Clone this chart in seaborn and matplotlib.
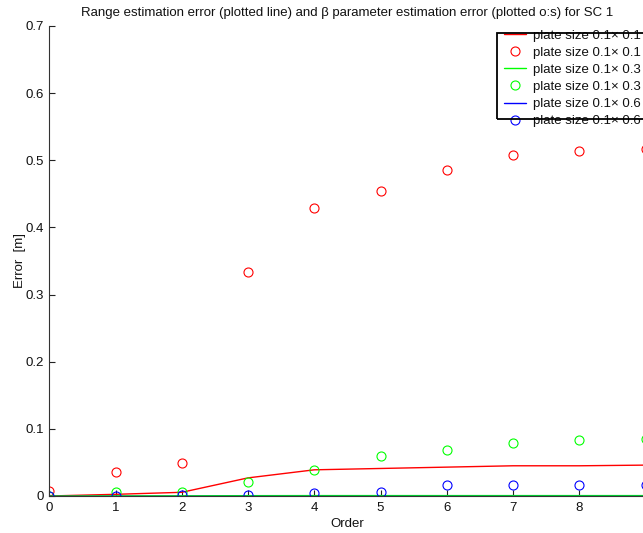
import matplotlib
matplotlib.use("Agg")
import matplotlib.pyplot as plt
import seaborn as sns
import pandas as pd
from matplotlib.patches import Rectangle

order = [0, 1, 2, 3, 4, 5, 6, 7, 8, 9]
range_err_01 = [0.0, 0.0025, 0.0055, 0.027, 0.039, 0.041, 0.043, 0.045, 0.045, 0.046]
beta_err_01 = [0.0075, 0.036, 0.0495, 0.334, 0.429, 0.455, 0.486, 0.508, 0.514, 0.517]
range_err_03 = [0.0, 0.0002, 0.0003, 0.0005, 0.0006, 0.0006, 0.0006, 0.0006, 0.0006, 0.0006]
beta_err_03 = [0.0, 0.0055, 0.0055, 0.021, 0.038, 0.060, 0.068, 0.0785, 0.083, 0.0845]
range_err_06 = [0.0, 0.0, 0.0, 0.0, 0.0, 0.0, 0.0, 0.0, 0.0, 0.0]
beta_err_06 = [0.0, 0.0, 0.001, 0.001, 0.004, 0.006, 0.016, 0.017, 0.017, 0.017]
labels = ["plate size 0.1\u00d7 0.1", "plate size 0.1\u00d7 0.1",
          "plate size 0.1\u00d7 0.3", "plate size 0.1\u00d7 0.3",
          "plate size 0.1\u00d7 0.6", "plate size 0.1\u00d7 0.6"]
colors = ["#ff0000", "#00ff00", "#0000ff"]

sns.set_theme(style="white")
plt.rcParams['font.family'] = ['Liberation Sans', 'DejaVu Sans']
FS = 9.5

W, H = 643, 533
fig = plt.figure(figsize=(W / 100, H / 100), dpi=100)
ax = fig.add_axes([49.3 / W, (H - 496) / H, 596.3 / W, 470 / H])

series = [(range_err_01, beta_err_01), (range_err_03, beta_err_03), (range_err_06, beta_err_06)]
for i, (rl, bc) in enumerate(series):
    c = colors[i]
    sns.lineplot(x=order, y=rl, ax=ax, color=c, linewidth=1.0, label=labels[2 * i])
    sns.lineplot(x=order, y=bc, ax=ax, color=c, linestyle='none', marker='o',
                 markersize=6.5, markerfacecolor='none', markeredgecolor=c,
                 markeredgewidth=0.8, label=labels[2 * i + 1])

ax.set_xlim(0, 9)
ax.set_ylim(0, 0.7)
ax.set_xticks(order)
ax.set_yticks([0, 0.1, 0.2, 0.3, 0.4, 0.5, 0.6, 0.7])
ax.set_yticklabels(["0", "0.1", "0.2", "0.3", "0.4", "0.5", "0.6", "0.7"])
for s in ["top", "right"]:
    ax.spines[s].set_visible(False)
for s in ["left", "bottom"]:
    ax.spines[s].set_color("#333333")
    ax.spines[s].set_linewidth(0.8)
ax.tick_params(direction='in', length=4, width=0.8, color='#222222',
               labelsize=FS, pad=4, left=True, bottom=True, labelcolor='#111111')
ax.set_xlabel("Order", fontsize=FS, labelpad=3, color='#111111')
ax.set_ylabel("Error  [m]", fontsize=FS, labelpad=-0.5, color='#111111')
ax.set_title("Range estimation error (plotted line) and \u03b2 parameter estimation error (plotted o:s) for SC 1",
             fontsize=FS, pad=7, color='#111111')

leg = ax.legend(loc='upper left', bbox_to_anchor=(504 / W, 1 - 29.5 / H),
                bbox_transform=fig.transFigure, frameon=False, fontsize=FS,
                handlelength=1.7, handletextpad=0.5, labelspacing=0.37,
                borderpad=0, borderaxespad=0)
for t in leg.get_texts():
    t.set_color('#111111')
bx, by, bw, bh = 497 / W, 1 - 119 / H, 0.3, (119 - 33) / H
ax.add_artist(Rectangle((bx, by), bw, bh, transform=fig.transFigure,
                        facecolor='white', edgecolor='none', zorder=4, clip_on=False))
ax.add_artist(Rectangle((bx, by), bw, bh, transform=fig.transFigure,
                        facecolor='none', edgecolor='black', linewidth=1.3, zorder=6,
                        clip_on=False))
leg.set_zorder(5)

fig.savefig("out.png", dpi=100)
